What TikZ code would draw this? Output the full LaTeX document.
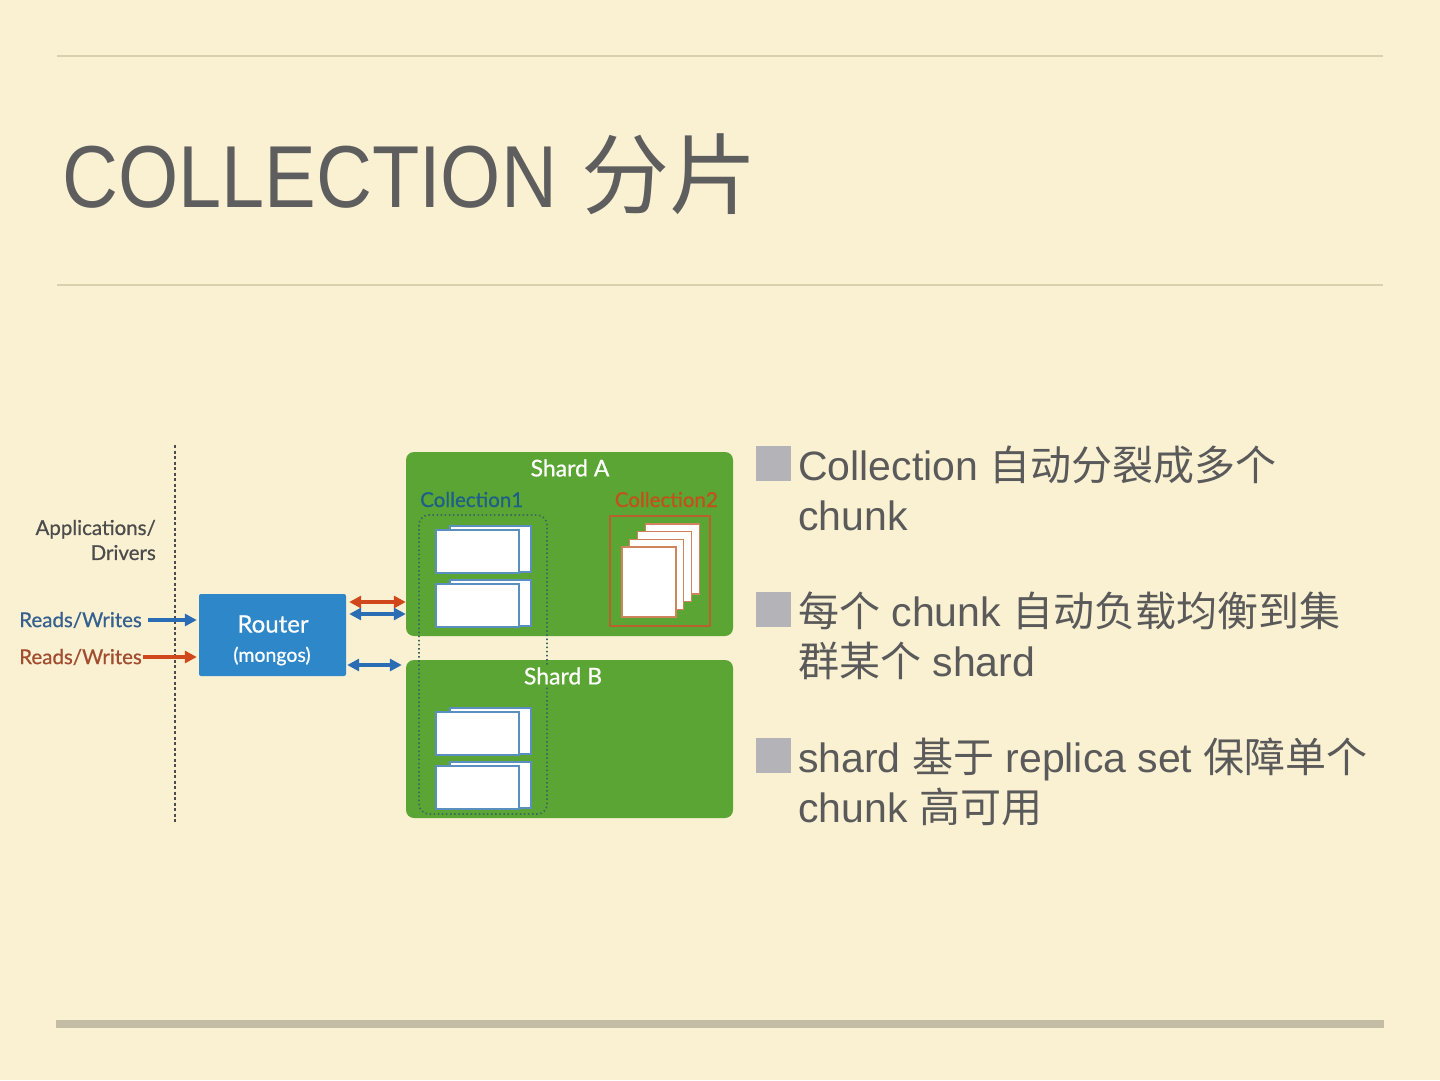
\documentclass[tikz,border=0pt]{standalone}
\usepackage{fontspec}
\setmainfont{Liberation Sans}
\newfontfamily\cjk{Noto Sans CJK SC}
\newfontfamily\gill{Lato}[FakeBold=0.7]
\usetikzlibrary{arrows.meta}
\definecolor{bg}{HTML}{FAF1D3}
\definecolor{rulecol}{HTML}{D9D0AE}
\definecolor{barcol}{HTML}{C4BDA5}
\definecolor{titlecol}{HTML}{5E5E5E}
\definecolor{bodycol}{HTML}{5A5A5A}
\definecolor{bulletcol}{HTML}{B4B4B8}
\definecolor{shardgreen}{HTML}{5AA533}
\definecolor{routerblue}{HTML}{2E87C9}
\definecolor{arrblue}{HTML}{2A6DB5}
\definecolor{arrred}{HTML}{D0471B}
\definecolor{txtblue}{HTML}{35608F}
\definecolor{txtred}{HTML}{A24C30}
\definecolor{coll1}{HTML}{1D5F88}
\definecolor{coll2}{HTML}{C4501C}
\definecolor{appcol}{HTML}{4C4C4C}
\definecolor{chunkedge}{HTML}{5B8FC0}
\definecolor{pageedge}{HTML}{D0845E}
\definecolor{c2box}{HTML}{B8602E}
\definecolor{grpcol}{HTML}{3E6A5E}
\tikzset{
  bodytxt/.style={anchor=base west, inner sep=0pt, text=bodycol, font=\fontsize{41}{41}\selectfont},
  shardbox/.style={fill=shardgreen, rounded corners=8pt, minimum width=327pt, inner sep=0pt},
  whitelbl/.style={text=white, inner sep=0pt, font=\gill\fontsize{23}{23}\selectfont},
  rwlbl/.style={anchor=east, inner sep=0pt, font=\gill\fontsize{20.5}{20.5}\selectfont},
  arr/.style={line width=3.3pt, -{Triangle[length=12pt,width=12pt]}},
  dblarr/.style={line width=3.3pt, {Triangle[length=12pt,width=12pt]}-{Triangle[length=12pt,width=12pt]}},
  chunkrect/.style={draw=chunkedge, fill=white, line width=1.6pt},
  pagerect/.style={draw=pageedge, fill=white, line width=1.2pt},
}
\begin{document}
\begin{tikzpicture}[x=1pt,y=-1pt]
\fill[bg] (0,0) rectangle (1440,1080);
\useasboundingbox (0,0) rectangle (1440,1080);
% rules
\draw[rulecol, line width=1.3pt] (57,56) -- (1383,56);
\draw[rulecol, line width=1.3pt] (57,285) -- (1383,285);
\fill[barcol] (56,1020) rectangle (1384,1028);
% title
\node[anchor=base west, inner sep=0pt, text=titlecol, font=\fontsize{88}{88}\selectfont] (title) at (62,207) {\scalebox{0.88}[1]{COLLECTION}\hspace{24pt}{\cjk 分片}};
% bullets
\fill[bulletcol] (756,446) rectangle (791,481);
\fill[bulletcol] (756,592) rectangle (791,627);
\fill[bulletcol] (756,738) rectangle (791,773);
\node[bodytxt] (b1a) at (798,480) {Collection {\cjk 自动分裂成多个}};
\node[bodytxt] (b1b) at (798,530) {chunk};
\node[bodytxt] (b2a) at (798,626) {{\cjk 每个} chunk {\cjk 自动负载均衡到集}};
\node[bodytxt] (b2b) at (798,676) {{\cjk 群某个} shard};
\node[bodytxt] (b3a) at (798,772) {shard {\cjk 基于} replica set {\cjk 保障单个}};
\node[bodytxt] (b3b) at (798,822) {chunk {\cjk 高可用}};
% dotted divider
\coordinate (dtop) at (175,445);
\coordinate (dbot) at (175,822);
\draw[appcol, line width=2.5pt, dash pattern=on 3pt off 2.5pt] (dtop) -- (dbot);
\node[anchor=east, align=right, inner sep=0pt, text=appcol, font=\gill\fontsize{20.5}{25}\selectfont] (apps) at (156,540) {Applications/\\Drivers};
% shards
\node[shardbox, minimum height=184pt] (shardA) at (569.5,544) {};
\node[shardbox, minimum height=158pt] (shardB) at (569.5,739) {};
\node[anchor=base west, inner sep=0pt, text=coll1, font=\gill\fontsize{20.5}{20.5}\selectfont] (c1lbl) at (420,507) {Collection1};
\node[anchor=base east, inner sep=0pt, text=coll2, font=\gill\fontsize{20.5}{20.5}\selectfont] (c2lbl) at (718,507) {Collection2};
% chunk stacks of Collection1
\foreach \yy in {530,584,712,766} {
  \draw[chunkrect] (450,\yy-4) rectangle (531,\yy+42);
  \draw[chunkrect] (436,\yy) rectangle (519,\yy+43);
}
% collection1 group
\draw[grpcol, line width=1.7pt, dash pattern=on 1.5pt off 2.6pt, rounded corners=10pt] (419,515) rectangle (547,814);
\node[whitelbl] (shardAlbl) at (570,468) {Shard A};
\node[whitelbl, fill=shardgreen, inner sep=1pt] (shardBlbl) at (563,676) {Shard B};
% collection2
\draw[c2box, line width=1.5pt] (610,516) rectangle (710,626);
\foreach \i in {3,2,1,0} {
  \draw[pagerect] (622+7.7*\i,547-7.7*\i) rectangle ++(54,70);
}
% router
\node[fill=routerblue, rounded corners=2pt, minimum width=147pt, minimum height=82pt, inner sep=0pt] (router) at (272.5,635) {};
\node[text=white, inner sep=0pt, font=\gill\fontsize{24}{24}\selectfont] (routerlbl) at (273,624) {Router};
\node[text=white, inner sep=0pt, font=\gill\fontsize{19.5}{19.5}\selectfont] (mongoslbl) at (272,656) {(mongos)};
% reads/writes
\node[rwlbl, text=txtblue] (rw1) at (142,620) {Reads/Writes};
\node[rwlbl, text=txtred] (rw2) at (142,657) {Reads/Writes};
\draw[arr, arrblue, shorten <=6pt, shorten >=2pt] (rw1.east) -- (rw1.east -| router.west);
\draw[arr, arrred, shorten <=1pt, shorten >=2pt] (rw2.east) -- (rw2.east -| router.west);
% router <-> shards
\draw[dblarr, arrred, shorten <=3pt] (router.east |- 0,602) -- (shardA.west |- 0,602);
\draw[dblarr, arrblue, shorten <=3pt] (router.east |- 0,614) -- (shardA.west |- 0,614);
\draw[dblarr, arrblue, shorten <=1pt, shorten >=4pt] (router.east |- 0,665) -- (shardB.west |- 0,665);
\end{tikzpicture}
\end{document}
